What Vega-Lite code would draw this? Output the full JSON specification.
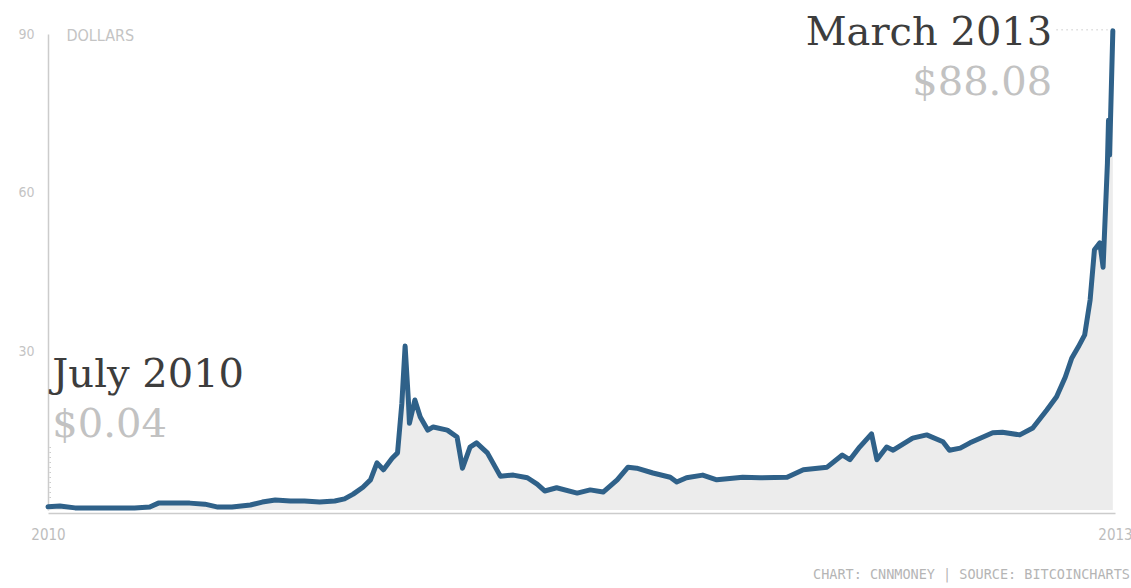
{
  "$schema": "https://vega.github.io/schema/vega-lite/v6.json",
  "width": 1067,
  "height": 476,
  "autosize": {"type": "none"},
  "padding": {"left": 48, "top": 34, "right": 16, "bottom": 78},
  "background": "#ffffff",
  "config": {"view": {"stroke": null}},
  "title": {
    "text": "CHART: CNNMONEY | SOURCE: BITCOINCHARTS",
    "orient": "bottom",
    "anchor": "end",
    "frame": "group",
    "font": "DejaVu Sans Mono",
    "fontSize": 13.5,
    "fontWeight": "normal",
    "color": "#b5b5b5",
    "offset": 26,
    "dx": 15
  },
  "datasets": {
    "price": [
      {"date": "2010-07-17", "price": 0.6},
      {"date": "2010-07-28", "price": 0.75},
      {"date": "2010-08-11", "price": 0.4},
      {"date": "2010-08-29", "price": 0.4},
      {"date": "2010-09-17", "price": 0.4},
      {"date": "2010-10-05", "price": 0.4},
      {"date": "2010-10-19", "price": 0.55},
      {"date": "2010-10-27", "price": 1.3},
      {"date": "2010-11-11", "price": 1.3},
      {"date": "2010-11-25", "price": 1.3},
      {"date": "2010-12-09", "price": 1.1},
      {"date": "2010-12-21", "price": 0.55},
      {"date": "2011-01-03", "price": 0.55},
      {"date": "2011-01-20", "price": 0.95},
      {"date": "2011-01-31", "price": 1.5},
      {"date": "2011-02-12", "price": 1.9},
      {"date": "2011-02-26", "price": 1.7},
      {"date": "2011-03-11", "price": 1.7},
      {"date": "2011-03-25", "price": 1.5},
      {"date": "2011-04-08", "price": 1.7},
      {"date": "2011-04-17", "price": 2.1},
      {"date": "2011-04-25", "price": 3.0},
      {"date": "2011-05-04", "price": 4.3},
      {"date": "2011-05-11", "price": 5.7},
      {"date": "2011-05-17", "price": 8.9},
      {"date": "2011-05-23", "price": 7.6},
      {"date": "2011-05-31", "price": 9.8},
      {"date": "2011-06-05", "price": 10.8},
      {"date": "2011-06-09", "price": 20.2},
      {"date": "2011-06-12", "price": 31.0},
      {"date": "2011-06-15", "price": 20.8},
      {"date": "2011-06-16", "price": 16.4},
      {"date": "2011-06-21", "price": 20.8},
      {"date": "2011-06-26", "price": 17.6},
      {"date": "2011-07-03", "price": 15.1},
      {"date": "2011-07-08", "price": 15.7},
      {"date": "2011-07-21", "price": 15.1},
      {"date": "2011-07-30", "price": 13.8},
      {"date": "2011-08-04", "price": 7.9},
      {"date": "2011-08-11", "price": 11.9},
      {"date": "2011-08-17", "price": 12.7},
      {"date": "2011-08-27", "price": 10.8},
      {"date": "2011-09-08", "price": 6.4},
      {"date": "2011-09-20", "price": 6.6},
      {"date": "2011-10-03", "price": 6.1},
      {"date": "2011-10-12", "price": 4.9},
      {"date": "2011-10-19", "price": 3.6},
      {"date": "2011-10-30", "price": 4.2},
      {"date": "2011-11-18", "price": 3.2},
      {"date": "2011-11-30", "price": 3.8},
      {"date": "2011-12-12", "price": 3.4},
      {"date": "2011-12-25", "price": 5.7},
      {"date": "2012-01-04", "price": 8.1},
      {"date": "2012-01-12", "price": 7.9},
      {"date": "2012-01-27", "price": 7.0},
      {"date": "2012-02-12", "price": 6.2},
      {"date": "2012-02-18", "price": 5.3},
      {"date": "2012-02-27", "price": 6.1},
      {"date": "2012-03-13", "price": 6.6},
      {"date": "2012-03-26", "price": 5.7},
      {"date": "2012-04-19", "price": 6.2},
      {"date": "2012-05-05", "price": 6.1},
      {"date": "2012-05-30", "price": 6.2},
      {"date": "2012-06-14", "price": 7.6},
      {"date": "2012-07-06", "price": 8.1},
      {"date": "2012-07-20", "price": 10.4},
      {"date": "2012-07-27", "price": 9.5},
      {"date": "2012-08-05", "price": 11.9},
      {"date": "2012-08-16", "price": 14.4},
      {"date": "2012-08-21", "price": 9.5},
      {"date": "2012-08-30", "price": 11.9},
      {"date": "2012-09-05", "price": 11.3},
      {"date": "2012-09-23", "price": 13.6},
      {"date": "2012-10-06", "price": 14.2},
      {"date": "2012-10-21", "price": 12.9},
      {"date": "2012-10-27", "price": 11.3},
      {"date": "2012-11-06", "price": 11.7},
      {"date": "2012-11-15", "price": 12.7},
      {"date": "2012-12-06", "price": 14.6},
      {"date": "2012-12-15", "price": 14.7},
      {"date": "2012-12-31", "price": 14.2},
      {"date": "2013-01-12", "price": 15.5},
      {"date": "2013-01-25", "price": 18.9},
      {"date": "2013-02-03", "price": 21.4},
      {"date": "2013-02-11", "price": 25.1},
      {"date": "2013-02-17", "price": 28.7},
      {"date": "2013-02-23", "price": 30.8},
      {"date": "2013-03-01", "price": 33.1},
      {"date": "2013-03-06", "price": 39.7},
      {"date": "2013-03-10", "price": 49.2},
      {"date": "2013-03-15", "price": 50.5},
      {"date": "2013-03-18", "price": 45.9},
      {"date": "2013-03-22", "price": 65.6},
      {"date": "2013-03-23", "price": 73.7},
      {"date": "2013-03-24", "price": 67.1},
      {"date": "2013-03-27", "price": 90.6}
    ]
  },
  "layer": [
    {
      "data": {"name": "price"},
      "mark": {"type": "area", "color": "#ececec", "opacity": 1},
      "encoding": {
        "x": {
          "field": "date",
          "type": "temporal",
          "scale": {"domain": [{"year": 2010, "month": "jul", "date": 17}, {"year": 2013, "month": "mar", "date": 29}]},
          "axis": {
            "title": null,
            "values": [{"year": 2010, "month": "jul", "date": 17}, {"year": 2013, "month": "mar", "date": 29}],
            "format": "%Y",
            "labelFlush": false,
            "labelOverlap": false,
            "grid": false,
            "ticks": false,
            "domainColor": "#cccccc",
            "domainWidth": 1.5,
            "offset": 3,
            "labelColor": "#bdbdbd",
            "labelFont": "Liberation Sans Narrow, DejaVu Sans Condensed, sans-serif",
            "labelFontSize": 15,
            "labelPadding": 14
          }
        },
        "y": {
          "field": "price",
          "type": "quantitative",
          "scale": {"domain": [0, 90], "nice": false},
          "axis": {
            "title": null,
            "values": [30, 60, 90],
            "grid": false,
            "ticks": false,
            "domainColor": "#cccccc",
            "domainWidth": 1.5,
            "labelColor": "#c4c4c4",
            "labelFont": "Liberation Sans Narrow, DejaVu Sans Condensed, sans-serif",
            "labelFontSize": 14,
            "labelPadding": 14
          }
        }
      }
    },
    {
      "data": {"name": "price"},
      "mark": {"type": "line", "color": "#2f6189", "strokeWidth": 5, "strokeJoin": "round", "strokeCap": "round"},
      "encoding": {
        "x": {"field": "date", "type": "temporal"},
        "y": {"field": "price", "type": "quantitative"}
      }
    },
    {
      "data": {"values": [{"date": "2010-07-19", "top": 11.9, "bottom": 1.9}]},
      "mark": {"type": "rule", "color": "#c8c8c8", "strokeWidth": 1.5, "strokeDash": [1, 4]},
      "encoding": {
        "x": {"field": "date", "type": "temporal"},
        "y": {"field": "top", "type": "quantitative"},
        "y2": {"field": "bottom"}
      }
    },
    {
      "data": {"values": [{"start": "2013-02-03", "end": "2013-03-22", "level": 90.8}]},
      "mark": {"type": "rule", "color": "#c8c8c8", "strokeWidth": 1.5, "strokeDash": [1, 4]},
      "encoding": {
        "x": {"field": "start", "type": "temporal"},
        "x2": {"field": "end"},
        "y": {"field": "level", "type": "quantitative"}
      }
    },
    {
      "data": {"values": [{"date": "2010-08-03", "price": 89.6, "label": "DOLLARS"}]},
      "mark": {"type": "text", "align": "left", "baseline": "middle", "font": "Liberation Sans Narrow, DejaVu Sans Condensed, sans-serif", "fontSize": 16, "color": "#c4c4c4"},
      "encoding": {
        "x": {"field": "date", "type": "temporal"},
        "y": {"field": "price", "type": "quantitative"},
        "text": {"field": "label"}
      }
    },
    {
      "data": {"values": [{"date": "2010-07-21", "price": 23.3, "label": "July 2010"}]},
      "mark": {"type": "text", "align": "left", "baseline": "alphabetic", "font": "DejaVu Serif", "fontSize": 40, "color": "#3d3d3d"},
      "encoding": {
        "x": {"field": "date", "type": "temporal"},
        "y": {"field": "price", "type": "quantitative"},
        "text": {"field": "label"}
      }
    },
    {
      "data": {"values": [{"date": "2010-07-21", "price": 13.8, "label": "$0.04"}]},
      "mark": {"type": "text", "align": "left", "baseline": "alphabetic", "font": "DejaVu Serif", "fontSize": 40, "color": "#c2c2c2"},
      "encoding": {
        "x": {"field": "date", "type": "temporal"},
        "y": {"field": "price", "type": "quantitative"},
        "text": {"field": "label"}
      }
    },
    {
      "data": {"values": [{"date": "2013-01-30", "price": 87.9, "label": "March 2013"}]},
      "mark": {"type": "text", "align": "right", "baseline": "alphabetic", "font": "DejaVu Serif", "fontSize": 40, "color": "#3d3d3d"},
      "encoding": {
        "x": {"field": "date", "type": "temporal"},
        "y": {"field": "price", "type": "quantitative"},
        "text": {"field": "label"}
      }
    },
    {
      "data": {"values": [{"date": "2013-01-30", "price": 78.5, "label": "$88.08"}]},
      "mark": {"type": "text", "align": "right", "baseline": "alphabetic", "font": "DejaVu Serif", "fontSize": 40, "color": "#c2c2c2"},
      "encoding": {
        "x": {"field": "date", "type": "temporal"},
        "y": {"field": "price", "type": "quantitative"},
        "text": {"field": "label"}
      }
    }
  ]
}
